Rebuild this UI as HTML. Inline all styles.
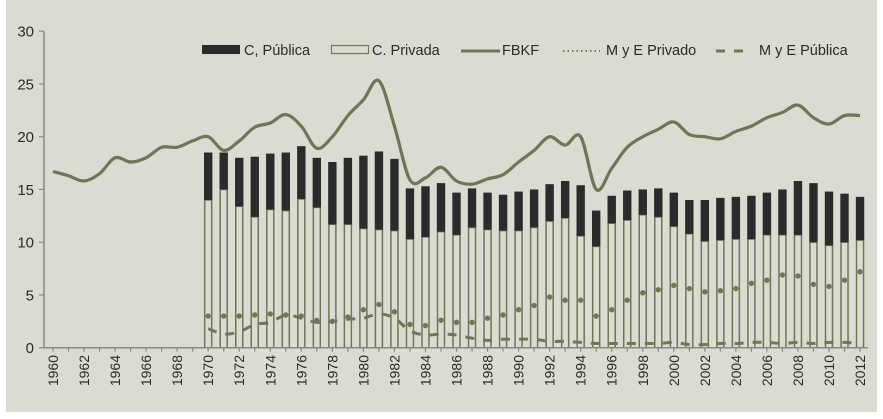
<!DOCTYPE html>
<html><head><meta charset="utf-8"><style>
html,body{margin:0;padding:0;background:#fff}
svg{display:block}
text{font-family:"Liberation Sans",sans-serif;fill:#2a2a2a}
</style></head><body>
<svg id="chart" width="883" height="419" viewBox="0 0 883 419">
<rect x="6" y="0" width="871" height="412" fill="#dcdbd2"/>
<g id="legend" font-size="14.5">
 <g><rect x="202" y="45" width="38" height="9" fill="#2b2b2b"/><text x="244" y="55">C, Pública</text></g>
 <g><rect x="331.5" y="45.5" width="37" height="8" fill="none" stroke="#737a5c" stroke-width="1.2"/><text x="372" y="55">C. Privada</text></g>
 <g><line x1="461" y1="51" x2="500" y2="51" stroke="#6f7656" stroke-width="3"/><text x="502" y="55">FBKF</text></g>
 <g><line x1="563" y1="51" x2="600" y2="51" stroke="#6f7656" stroke-width="2" stroke-dasharray="1.5 3"/><text x="606" y="55">M y E Privado</text></g>
 <g><line x1="716" y1="51" x2="745" y2="51" stroke="#6f7656" stroke-width="3" stroke-dasharray="9 9"/><text x="759" y="55">M y E Pública</text></g>
</g>
</svg>
<script>
const fbkfYears = [];
for (let y = 1960; y <= 2012; y++) fbkfYears.push(y);
const fbkf = [16.7,16.3,15.8,16.5,18.0,17.6,18.0,19.0,19.0,19.6,20.0,18.7,19.6,20.9,21.3,22.1,21.0,18.9,20.0,22.0,23.5,25.3,21.0,15.9,16.1,17.1,15.8,15.5,16.0,16.4,17.6,18.7,20.0,19.2,20.0,15.0,17.0,19.0,20.0,20.7,21.4,20.2,20.0,19.8,20.5,21.0,21.8,22.3,23.0,21.8,21.2,22.0,22.0];
const barYears = [];
for (let y = 1970; y <= 2012; y++) barYears.push(y);
const totalConstr = [18.5,18.5,18.0,18.1,18.4,18.5,19.1,18.0,17.6,18.0,18.2,18.6,17.9,15.1,15.3,15.6,14.7,15.1,14.7,14.5,14.8,15.0,15.5,15.8,15.4,13.0,14.4,14.9,15.0,15.1,14.7,14.0,14.0,14.2,14.3,14.4,14.7,15.0,15.8,15.6,14.8,14.6,14.3];
const privConstr = [14.0,15.0,13.4,12.4,13.1,13.0,14.1,13.3,11.7,11.7,11.3,11.2,11.1,10.3,10.5,11.0,10.7,11.4,11.2,11.1,11.1,11.4,12.0,12.3,10.6,9.6,11.8,12.1,12.6,12.4,11.5,10.8,10.1,10.2,10.3,10.3,10.7,10.7,10.7,10.0,9.7,10.0,10.2];
const myePriv = [3.0,3.0,3.0,3.1,3.2,3.1,3.0,2.6,2.5,2.9,3.6,4.1,3.4,2.2,2.1,2.6,2.4,2.4,2.8,3.1,3.6,4.0,4.8,4.5,4.5,3.0,3.6,4.5,5.2,5.5,5.9,5.6,5.3,5.4,5.6,6.1,6.4,6.9,6.8,6.0,5.8,6.4,7.2];
const myePub = [1.8,1.3,1.5,2.2,2.4,3.1,2.8,2.4,2.5,2.7,2.8,3.2,2.8,1.6,1.2,1.3,1.2,0.9,0.7,0.8,0.8,0.8,0.6,0.6,0.5,0.4,0.4,0.4,0.4,0.4,0.5,0.3,0.3,0.4,0.4,0.5,0.5,0.4,0.5,0.4,0.5,0.5,0.4];
const yTicks = [0,5,10,15,20,25,30];

const svg = document.getElementById('chart');
const legend = document.getElementById('legend');
const NS = 'http://www.w3.org/2000/svg';
const COL = '#6f7656';
const x = yr => 53 + (yr - 1960) * 15.52;
const y = v => 347.7 - v * 10.55;
function mk(tag, attrs, parent) {
  const e = document.createElementNS(NS, tag);
  for (const k in attrs) e.setAttribute(k, attrs[k]);
  (parent || svg).insertBefore(e, legend);
  return e;
}
const axY = mk('line', {x1:44, y1:y(30), x2:44, y2:y(0), stroke:'#888', 'stroke-width':1.5});


yTicks.forEach(t => {
  const tk = mk('line', {x1:39, y1:y(t), x2:44, y2:y(t), stroke:'#888', 'stroke-width':1.2});
  
  
  const lb = mk('text', {x:34, y:y(t)+5.5, 'text-anchor':'end', 'font-size':15});
  lb.textContent = t;
  
  
});
barYears.forEach((yr, i) => {
  const cx = x(yr);
  const pr = mk('rect', {x:cx-3.5, y:y(privConstr[i]), width:7, height:y(0)-y(privConstr[i]), fill:'#dcdbd2', stroke:COL, 'stroke-width':1.5});
  
  
  const pu = mk('rect', {x:cx-4.2, y:y(totalConstr[i]), width:8.4, height:y(privConstr[i])-y(totalConstr[i]), fill:'#2b2b2b'});
  
  
});
const axX = mk('line', {x1:44, y1:y(0), x2:x(2012)+8, y2:y(0), stroke:'#888', 'stroke-width':1.5});


fbkfYears.forEach(yr => {
  const tk = mk('line', {x1:x(yr), y1:y(0), x2:x(yr), y2:y(0)+4, stroke:'#888', 'stroke-width':1.2});
  
  
  if ((yr - 1960) % 2 === 0) {
    const lb = mk('text', {x:0, y:0, 'text-anchor':'end', 'font-size':14, transform:`translate(${x(yr)+5},355) rotate(-90)`});
    lb.textContent = yr;
    
    
  }
});
function smooth(pts) {
  let d = `M${pts[0][0]},${pts[0][1]}`;
  for (let i = 0; i < pts.length - 1; i++) {
    const p0 = pts[i-1] || pts[i], p1 = pts[i], p2 = pts[i+1], p3 = pts[i+2] || p2;
    const c1 = [p1[0] + (p2[0]-p0[0])/6, p1[1] + (p2[1]-p0[1])/6];
    const c2 = [p2[0] - (p3[0]-p1[0])/6, p2[1] - (p3[1]-p1[1])/6];
    d += ` C${c1[0]},${c1[1]} ${c2[0]},${c2[1]} ${p2[0]},${p2[1]}`;
  }
  return d;
}
const pub = mk('path', {d:smooth(barYears.map((yr,i)=>[x(yr), y(myePub[i])])), fill:'none', stroke:COL, 'stroke-width':3, 'stroke-dasharray':'9 9'});


barYears.forEach((yr, i) => {
  const c = mk('circle', {cx:x(yr), cy:y(myePriv[i]), r:2.7, fill:COL});
  
  
});
const fl = mk('path', {d:smooth(fbkfYears.map((yr,i)=>[x(yr), y(fbkf[i])])), fill:'none', stroke:COL, 'stroke-width':3.2});


</script>
</body></html>
